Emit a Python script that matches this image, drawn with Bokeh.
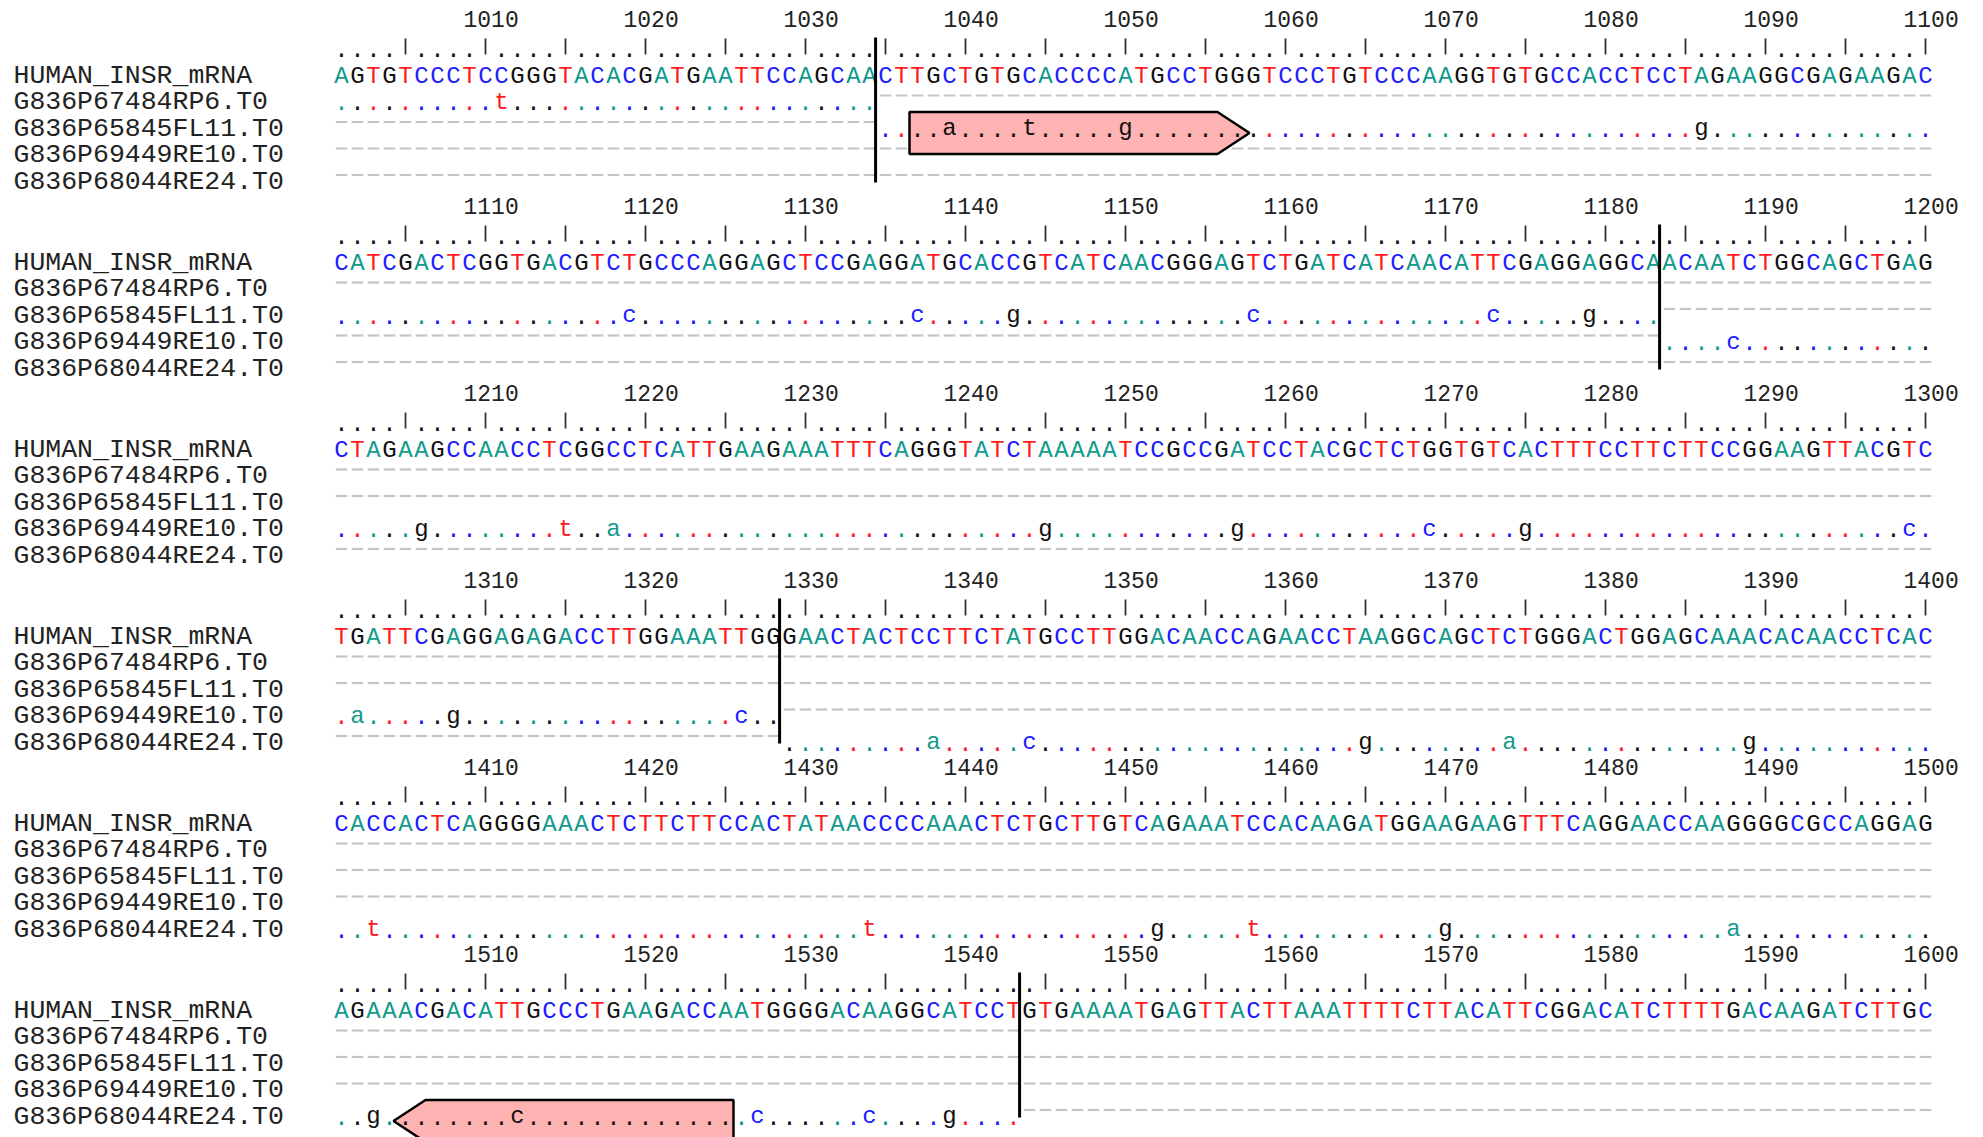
from bokeh.plotting import figure
from bokeh.models import Range1d, ColumnDataSource
from bokeh.core.properties import value
from bokeh.embed import file_html
from bokeh.resources import INLINE

# ---------------------------------------------------------------- data
FIRST_POS = 1001
LINE_LEN = 100

REFERENCE_NAME = "HUMAN_INSR_mRNA"
REFERENCE_LINES = [
    "AGTGTCCCTCCGGGTACACGATGAATTCCAGCAACTTGCTGTGCACCCCATGCCTGGGTCCCTGTCCCAAGGTGTGCCACCTCCTAGAAGGCGAGAAGAC",
    "CATCGACTCGGTGACGTCTGCCCAGGAGCTCCGAGGATGCACCGTCATCAACGGGAGTCTGATCATCAACATTCGAGGAGGCAACAATCTGGCAGCTGAG",
    "CTAGAAGCCAACCTCGGCCTCATTGAAGAAATTTCAGGGTATCTAAAAATCCGCCGATCCTACGCTCTGGTGTCACTTTCCTTCTTCCGGAAGTTACGTC",
    "TGATTCGAGGAGAGACCTTGGAAATTGGGAACTACTCCTTCTATGCCTTGGACAACCAGAACCTAAGGCAGCTCTGGGACTGGAGCAAACACAACCTCAC",
    "CACCACTCAGGGGAAACTCTTCTTCCACTATAACCCCAAACTCTGCTTGTCAGAAATCCACAAGATGGAAGAAGTTTCAGGAACCAAGGGGCGCCAGGAG",
    "AGAAACGACATTGCCCTGAAGACCAATGGGGACAAGGCATCCTGTGAAAATGAGTTACTTAAATTTTCTTACATTCGGACATCTTTTGACAAGATCTTGC",
]

READ_NAMES = ["G836P67484RP6.T0", "G836P65845FL11.T0", "G836P69449RE10.T0", "G836P68044RE24.T0"]
READ_START = [1001, 1035, 1184, 1329]
READ_END = [1034, 1183, 1328, 1543]
READ_SUBSTITUTIONS = [
    {1011: "t"},
    {1039: "a", 1044: "t", 1050: "g", 1086: "g", 1119: "c", 1137: "c",
     1143: "g", 1158: "c", 1173: "c", 1179: "g"},
    {1188: "c", 1206: "g", 1215: "t", 1218: "a", 1245: "g", 1257: "g",
     1269: "c", 1275: "g", 1299: "c", 1302: "a", 1308: "g", 1326: "c"},
    {1338: "a", 1344: "c", 1365: "g", 1374: "a", 1389: "g", 1403: "t",
     1434: "t", 1452: "g", 1458: "t", 1470: "g", 1488: "a", 1503: "g",
     1512: "c", 1527: "c", 1534: "c", 1539: "g"},
]

# annotated regions on reads (read index, first, last, strand)
FEATURE_READ = [1, 3]
FEATURE_FIRST = [1037, 1505]
FEATURE_LAST = [1057, 1525]
FEATURE_STRAND = ["+", "-"]

# ---------------------------------------------------------------- style
FONT = "Liberation Mono"
BASE_COLORS = {"A": "#129a8e", "C": "#1c1cff", "G": "#111111", "T": "#ff1c1c"}
GAP_COLOR = "#c4c4c4"
FEATURE_FILL = "#ffb3b3"
LABEL_COLOR = "#222222"

W, H = 1983, 1137
CHAR_W = 16.0
SEQ_LEFT = 333.0
BLOCK_H = 187.0
TICK_BASE = 18.5
RULER_BASE = 48.0
BAR_TOP, BAR_BOTTOM = 38.0, 54.0
SEQ_BASE = 75.5
READ_BASES = [101.5, 128.0, 154.5, 181.0]
SPLIT_TOP, SPLIT_BOTTOM = 37.0, 182.0
LABEL_X = -20.0

p = figure(width=W, height=H,
           x_range=Range1d(-SEQ_LEFT / CHAR_W, (W - SEQ_LEFT) / CHAR_W),
           y_range=Range1d(H, 0),
           x_axis_location=None, y_axis_location=None,
           output_backend="svg", toolbar_location=None, min_border=0)
p.grid.visible = False
p.outline_line_color = None
p.background_fill_color = "white"


def in_feature(r, pos):
    for fr, a, b in zip(FEATURE_READ, FEATURE_FIRST, FEATURE_LAST):
        if fr == r and a <= pos <= b:
            return True
    return False


seq = dict(x=[], y=[], t=[], c=[])
box_txt = dict(x=[], y=[], t=[], c=[])
gaps = dict(x0=[], x1=[], y=[])
ruler = dict(x=[], y=[], t=[])
bars = dict(x0=[], y0=[], x1=[], y1=[])
ticks = dict(x=[], y=[], t=[])
labels = dict(x=[], y=[], t=[])

for k, line in enumerate(REFERENCE_LINES):
    top = k * BLOCK_H
    first = FIRST_POS + k * LINE_LEN
    # name column
    labels["x"].append(LABEL_X); labels["y"].append(top + SEQ_BASE); labels["t"].append(REFERENCE_NAME)
    for r, name in enumerate(READ_NAMES):
        labels["x"].append(LABEL_X); labels["y"].append(top + READ_BASES[r]); labels["t"].append(name)
    for i, b in enumerate(line):
        pos = first + i
        xc = i + 0.5
        # ruler and position numbers
        if pos % 5 == 0:
            bars["x0"].append(xc); bars["x1"].append(xc)
            bars["y0"].append(top + BAR_TOP); bars["y1"].append(top + BAR_BOTTOM)
        else:
            ruler["x"].append(xc); ruler["y"].append(top + RULER_BASE); ruler["t"].append(".")
        if pos % 10 == 0:
            ticks["x"].append(xc + 0.35); ticks["y"].append(top + TICK_BASE); ticks["t"].append(str(pos))
        # reference
        seq["x"].append(xc); seq["y"].append(top + SEQ_BASE); seq["t"].append(b); seq["c"].append(BASE_COLORS[b])
        # reads
        for r in range(len(READ_NAMES)):
            y = top + READ_BASES[r]
            if READ_START[r] <= pos <= READ_END[r]:
                sub = READ_SUBSTITUTIONS[r].get(pos)
                ch = sub if sub else "."
                col = BASE_COLORS[(sub or b).upper()]
                if in_feature(r, pos):
                    box_txt["x"].append(xc); box_txt["y"].append(y); box_txt["t"].append(ch); box_txt["c"].append("#111111")
                else:
                    seq["x"].append(xc); seq["y"].append(y); seq["t"].append(ch); seq["c"].append(col)
            else:
                gaps["x0"].append(i + 0.14); gaps["x1"].append(i + 0.86); gaps["y"].append(y - 6.5)

txt_kw = dict(text_font=value(FONT), text_align="center", text_baseline="alphabetic")

p.segment(x0="x0", y0="y", x1="x1", y1="y", source=ColumnDataSource(gaps),
          line_color=GAP_COLOR, line_width=2.2)
p.text(x="x", y="y", text="t", text_color="c", source=ColumnDataSource(seq),
       text_font_size="24px", **txt_kw)
p.text(x="x", y="y", text="t", text_color="#111111", source=ColumnDataSource(ruler),
       text_font_size="24px", **txt_kw)
p.segment(x0="x0", y0="y0", x1="x1", y1="y1", source=ColumnDataSource(bars),
          line_color="#333333", line_width=1.8)
p.text(x="x", y="y", text="t", text_color=LABEL_COLOR, source=ColumnDataSource(ticks),
       text_font_size="23px", **txt_kw)
p.text(x="x", y="y", text="t", text_color=LABEL_COLOR, source=ColumnDataSource(labels),
       text_font_size="26.5px", text_font=value(FONT), text_align="left", text_baseline="alphabetic")

# feature arrows
xs, ys = [], []
for fr, a, b, strand in zip(FEATURE_READ, FEATURE_FIRST, FEATURE_LAST, FEATURE_STRAND):
    k = (a - FIRST_POS) // LINE_LEN
    first = FIRST_POS + k * LINE_LEN
    left, right = a - first, b - first + 1
    base = k * BLOCK_H + READ_BASES[fr]
    t0, t1, mid = base - 16.5, base + 25.5, base + 4.5
    if strand == "+":
        xs.append([left, right - 1.75, right + 0.25, right - 1.75, left])
    else:
        xs.append([right, left + 1.75, left - 0.25, left + 1.75, right])
    ys.append([t0, t0, mid, t1, t1])
p.patches(xs=xs, ys=ys, fill_color=FEATURE_FILL, line_color="black", line_width=2.5)
p.text(x="x", y="y", text="t", text_color="c", source=ColumnDataSource(box_txt),
       text_font_size="24px", **txt_kw)

# read boundaries
sx, sy0, sy1 = [], [], []
for end in READ_END:
    k = (end - FIRST_POS) // LINE_LEN
    first = FIRST_POS + k * LINE_LEN
    sx.append(end - first + 1 - 0.12)
    sy0.append(k * BLOCK_H + SPLIT_TOP)
    sy1.append(k * BLOCK_H + SPLIT_BOTTOM)
p.segment(x0=sx, y0=sy0, x1=sx, y1=sy1, line_color="black", line_width=3)

open("out.html", "w").write(file_html(p, INLINE))
